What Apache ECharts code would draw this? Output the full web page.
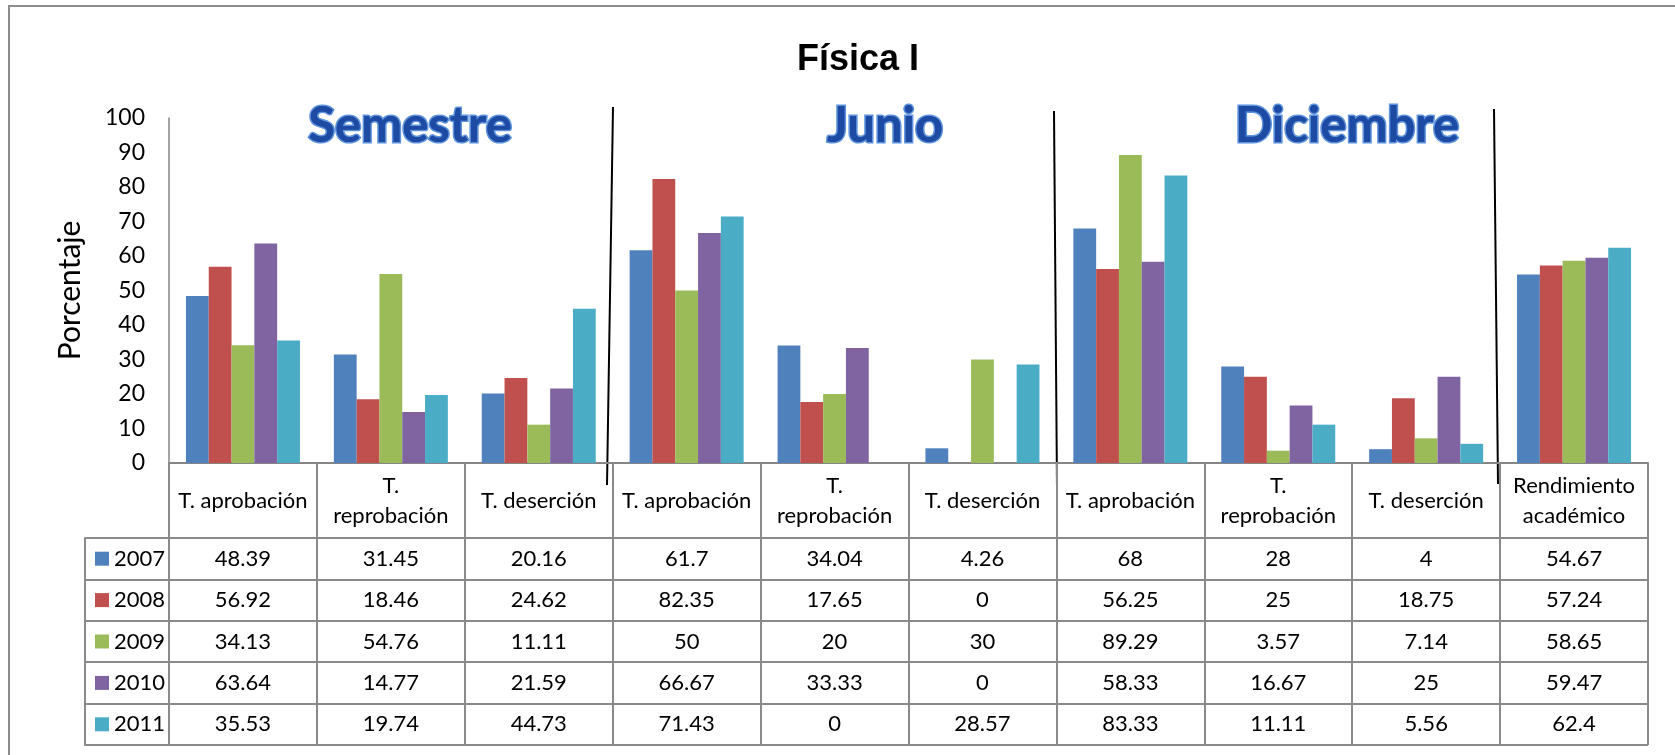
<!DOCTYPE html>
<html>
<head>
<meta charset="utf-8">
<style>
  html, body { margin: 0; padding: 0; background: #fff; }
  #chart { width: 1675px; height: 755px; }
</style>
<script src="https://cdn.jsdelivr.net/npm/echarts@6/dist/echarts.min.js"></script>
</head>
<body>
<div id="chart"></div>
<script>
// datos de la gráfica
const categories = [
  'T. aprobación', 'T.\nreprobación', 'T. deserción',
  'T. aprobación', 'T.\nreprobación', 'T. deserción',
  'T. aprobación', 'T.\nreprobación', 'T. deserción',
  'Rendimiento\nacadémico'
]
const years = ['2007', '2008', '2009', '2010', '2011']
const v2007 = [48.39, 31.45, 20.16, 61.7, 34.04, 4.26, 68, 28, 4, 54.67]
const v2008 = [56.92, 18.46, 24.62, 82.35, 17.65, 0, 56.25, 25, 18.75, 57.24]
const v2009 = [34.13, 54.76, 11.11, 50, 20, 30, 89.29, 3.57, 7.14, 58.65]
const v2010 = [63.64, 14.77, 21.59, 66.67, 33.33, 0, 58.33, 16.67, 25, 59.47]
const v2011 = [35.53, 19.74, 44.73, 71.43, 0, 28.57, 83.33, 11.11, 5.56, 62.4]
const sections = ['Semestre', 'Junio', 'Diciembre']
const yMin = 0
const yMax = 100
const yStep = 10

const seriesValues = [v2007, v2008, v2009, v2010, v2011]
const colors = ['#4F81BD', '#C0504D', '#9BBB59', '#8064A2', '#4BACC6']
const lineGrey = '#8a8a8a'
const font = 'Lato'

const chart = echarts.init(document.getElementById('chart'))

// etiqueta de cada categoría = encabezado + fila de valores (tabla de datos)
const labelFormatter = (value, index) => {
  const lines = []
  const parts = categories[index].split('\n')
  if (parts.length === 1) {
    lines.push('{h1|' + parts[0] + '}')
  } else {
    lines.push('{sp| }', '{h2|' + parts[0] + '}', '{h2|' + parts[1] + '}', '{sp2| }')
  }
  seriesValues.forEach(arr => lines.push('{v|' + arr[index] + '}'))
  return lines.join('\n')
}

const txt = { fontFamily: font, fontSize: 22, color: '#000', align: 'center' }

const sectionX = [410, 885, 1347]

// rótulos de sección: contorno azul claro + relleno azul oscuro
const sectionLabel = (s, i, fill, stroke, lw, extra) => Object.assign({
  type: 'text',
  silent: true,
  x: sectionX[i],
  y: 126,
  style: Object.assign({
    text: s,
    fontFamily: 'Lato',
    fontSize: 49,
    fontWeight: 'bold',
    fill: fill,
    stroke: stroke,
    lineWidth: lw,
    align: 'center',
    verticalAlign: 'middle'
  }, extra || {})
})

const option = {
  animation: false,
  backgroundColor: '#fff',
  title: {
    text: 'Física I',
    left: 858,
    top: 42,
    padding: 0,
    textAlign: 'center',
    textStyle: { fontFamily: 'Liberation Sans', fontSize: 36, fontWeight: 'bold', color: '#000' }
  },
  legend: {
    data: years,
    orient: 'vertical',
    left: 95,
    top: 547.7,
    padding: 0,
    icon: 'rect',
    itemWidth: 14,
    itemHeight: 14,
    itemGap: 19.4,
    selectedMode: false,
    itemStyle: { borderWidth: 0 },
    textStyle: { fontFamily: font, fontSize: 22, color: '#000' }
  },
  grid: [
    { left: 169, right: 27, top: 118, height: 345, containLabel: false, outerBoundsMode: 'none' },
    { left: 85, right: 27, top: 538, height: 207, containLabel: false, outerBoundsMode: 'none' }
  ],
  xAxis: [
    {
      type: 'category',
      gridIndex: 0,
      data: categories,
      boundaryGap: true,
      axisLine: { show: true, lineStyle: { color: '#868686', width: 2 } },
      axisTick: { show: true, interval: 0, length: 282, inside: false, lineStyle: { color: lineGrey, width: 2 } },
      axisLabel: {
        interval: 0,
        margin: 0,
        formatter: labelFormatter,
        rich: {
          h1: Object.assign({ lineHeight: 75 }, txt),
          h2: Object.assign({ lineHeight: 30 }, txt),
          sp: { fontSize: 4, lineHeight: 8 },
          sp2: { fontSize: 4, lineHeight: 7 },
          v: Object.assign({ lineHeight: 41.4 }, txt)
        }
      },
      splitLine: { show: false }
    },
    { type: 'value', gridIndex: 1, min: 0, max: 1, show: false }
  ],
  yAxis: [
    {
      type: 'value',
      gridIndex: 0,
      min: yMin,
      max: yMax,
      interval: yStep,
      name: 'Porcentaje',
      nameLocation: 'middle',
      nameGap: 84,
      nameTextStyle: { fontFamily: font, fontSize: 30, color: '#000' },
      axisLine: { show: true, lineStyle: { color: '#868686', width: 1.5 } },
      axisTick: { show: false },
      splitLine: { show: false },
      axisLabel: { fontFamily: font, fontSize: 23, color: '#000', margin: 24 }
    },
    {
      // líneas horizontales de la tabla
      type: 'value',
      gridIndex: 1,
      min: 0,
      max: 5,
      interval: 1,
      axisLine: { show: true, lineStyle: { color: lineGrey, width: 2 } },
      axisTick: { show: false },
      axisLabel: { show: false },
      splitLine: { show: true, lineStyle: { color: lineGrey, width: 2 } }
    }
  ],
  series: years.map((y, i) => ({
    name: y,
    type: 'bar',
    xAxisIndex: 0,
    yAxisIndex: 0,
    barWidth: 22.8,
    barGap: '0%',
    itemStyle: { color: colors[i] },
    emphasis: { disabled: true },
    data: seriesValues[i]
  })),
  graphic: [
    {
      type: 'rect',
      silent: true,
      shape: { x: 9, y: 6, width: 1680, height: 760 },
      style: { fill: 'none', stroke: '#8c8c8c', lineWidth: 2 }
    },
    { type: 'line', shape: { x1: 613, y1: 107, x2: 607, y2: 485 }, style: { stroke: '#000', lineWidth: 2 } },
    { type: 'line', shape: { x1: 1054, y1: 111, x2: 1057, y2: 488 }, style: { stroke: '#000', lineWidth: 2 } },
    { type: 'line', shape: { x1: 1494, y1: 109, x2: 1498, y2: 484 }, style: { stroke: '#000', lineWidth: 2 } }
  ]
    .concat(sections.map((s, i) => sectionLabel(s, i, '#3465bd', '#5f93dc', 3.2,
      { shadowBlur: 4, shadowColor: 'rgba(30,60,140,0.4)', shadowOffsetY: 1 })))
    .concat(sections.map((s, i) => sectionLabel(s, i, '#1d4aa3', null, 0)))
}

chart.setOption(option)
</script>
</body>
</html>
